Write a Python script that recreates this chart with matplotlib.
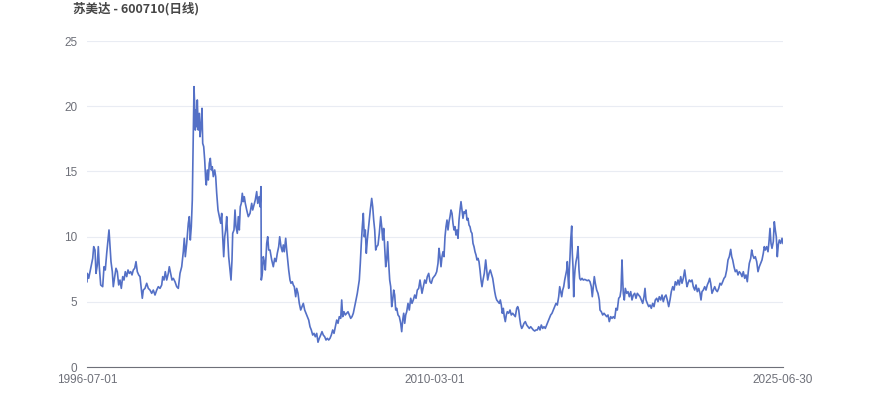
import matplotlib
matplotlib.use("Agg")
import matplotlib.pyplot as plt

# ---- data (trading-day index, close price) ----
title = "苏美达 - 600710(日线)"
n_days = 6961
x_tick_labels = ["1996-07-01", "2010-03-01", "2025-06-30"]
y_ticks = [0, 5, 10, 15, 20, 25]

idx_1996 = [0,3,17,40,57,67,80,90,103,113,123,137,157,170,183,197,210,220,230,240,253,263,277,290,303,317,330,343,357,370,383,397,410,423,437,450,463,477,490,503,517,530,543,553,563,580,597,613,630,647,663,680,697,713,730,747,757,770,783,797,813,823,837,850,863,880,897,913]
px_1996 = [6.54,7.18,6.80,7.69,8.33,9.23,8.97,7.18,7.82,9.23,7.69,6.29,6.16,7.69,7.44,8.72,9.74,10.51,9.23,8.08,7.31,6.16,6.93,7.57,7.31,6.29,6.67,6.03,6.93,6.67,7.31,6.93,7.44,7.18,7.31,7.06,7.44,7.57,8.08,7.31,7.06,6.93,6.03,5.27,5.90,6.03,6.42,6.03,5.90,5.65,5.90,5.52,5.90,6.16,6.03,6.29,6.93,6.67,7.31,6.67,7.18,7.69,7.18,6.67,6.80,6.54,6.16,6.03]

idx_2000 = [930,947,963,973,983,997,1013,1023,1033,1043,1053,1063,1070,1077,1083,1090,1097,1103,1113,1123,1130,1140,1150,1157,1167,1177,1187,1193,1203,1213,1223,1233,1243,1253,1263,1277,1287,1297,1310,1323,1337,1347,1357,1367,1377,1387,1397,1407,1417,1430,1440,1450,1457,1470,1480,1490,1503,1513,1523,1533,1543,1553,1563,1573,1583,1597,1613,1630,1647,1657,1670,1683,1697,1707,1720,1730,1740,1743,1753,1763,1773,1783,1797,1807,1817]
px_2000 = [7.18,7.69,8.84,9.87,8.46,9.48,11.02,11.53,9.74,10.76,12.81,17.66,21.50,19.96,18.17,19.71,18.43,20.48,18.17,19.45,17.66,18.43,19.84,17.15,16.90,15.87,14.34,13.96,15.11,14.34,15.62,16.00,15.11,15.36,14.60,15.11,14.60,13.32,12.04,11.53,11.02,11.78,9.99,8.46,9.99,10.51,11.53,9.99,8.46,7.44,6.67,8.21,10.25,10.51,12.04,10.76,10.25,11.53,10.51,12.29,12.55,13.32,12.68,13.06,12.55,12.04,11.53,11.78,12.55,12.04,12.42,12.81,13.45,12.55,13.06,12.29,13.83,6.67,7.18,8.46,8.08,7.44,9.48,9.99,8.97]

idx_2004 = [1830,1847,1863,1877,1890,1903,1917,1927,1940,1953,1963,1973,1987,1997,2007,2017,2030,2040,2053,2063,2073,2087,2097,2110,2123,2137,2150,2163,2177,2190,2203,2217,2230,2243,2257,2270,2283,2297,2310,2323,2337,2350,2363,2377,2390,2403,2417,2430,2443,2457,2470,2483,2497,2510,2523,2537,2547,2557,2570,2583,2597,2610,2623,2637,2650,2663,2677,2690,2703,2713,2723,2733,2743,2753,2763,2773,2783,2793,2803,2813,2823,2833,2847,2857]
px_2004 = [8.97,8.21,7.69,8.33,8.08,8.72,9.23,9.99,9.23,8.84,9.36,8.84,9.87,8.97,8.21,7.44,6.67,6.42,6.54,6.29,6.16,5.39,6.03,5.65,4.88,4.37,4.63,4.88,4.37,4.12,3.86,3.60,3.09,2.84,2.45,2.58,2.32,2.58,1.90,2.20,2.45,2.71,2.45,2.32,2.07,2.20,2.07,2.20,2.45,2.84,2.58,3.09,3.60,3.35,3.86,3.73,5.14,3.86,4.24,3.99,4.12,4.24,3.99,3.73,3.86,4.12,4.63,5.14,5.65,6.16,6.67,7.95,9.48,10.76,11.78,9.99,10.51,8.72,9.74,10.51,11.27,12.04,12.93,12.29]

idx_2008 = [2867,2877,2887,2897,2910,2923,2937,2947,2957,2967,2977,2987,2997,3007,3017,3027,3037,3047,3057,3067,3077,3087,3097,3110,3123,3137,3147,3157,3167,3177,3187,3197,3210,3223,3237,3250,3263,3277,3290,3303,3317,3330,3340,3350,3363,3377,3390,3403,3417,3430,3443,3457,3470,3483,3497,3510,3520,3530,3540,3550,3560,3570,3580,3590,3600,3610,3620,3630,3640,3650,3660,3670,3680,3690,3700,3710,3720,3730,3740,3750,3760,3770,3780,3790,3800,3810,3820,3830,3840,3850,3860,3870,3880,3890,3900,3910,3920,3930,3940,3950]
px_2008 = [11.27,10.51,8.97,9.23,9.36,10.25,11.53,10.76,9.74,10.63,9.23,7.69,8.21,9.61,7.95,6.67,6.16,4.63,5.14,5.90,5.52,4.37,4.50,3.99,3.86,3.35,2.71,3.60,4.12,3.35,3.99,4.24,4.88,4.37,5.27,4.88,5.14,5.52,5.27,5.90,6.03,6.67,6.16,5.65,6.16,6.67,6.42,6.93,7.18,6.54,6.42,6.80,6.93,7.06,7.31,7.95,9.10,8.46,7.69,8.46,8.84,8.46,9.99,10.76,11.27,10.51,11.14,11.53,12.04,11.78,11.02,10.51,10.76,10.12,10.51,9.87,11.27,12.04,12.68,12.04,11.40,11.91,11.78,12.04,11.27,11.40,10.89,10.76,10.38,10.25,9.48,9.23,8.84,8.59,8.21,8.33,8.08,7.44,6.67,6.16]

idx_2012 = [3960,3973,3987,3997,4007,4020,4033,4047,4057,4067,4077,4087,4097,4110,4123,4133,4143,4153,4163,4173,4183,4193,4203,4217,4230,4243,4257,4270,4283,4297,4307,4317,4327,4337,4347,4357,4370,4383,4397,4410,4423,4437,4450,4463,4477,4490,4503,4517,4530,4543,4557,4570,4583,4597,4610,4623,4637,4650,4663,4677,4690,4703,4717,4727,4737,4747,4757,4767,4777,4787,4797,4803,4810,4817,4823,4830,4837,4847,4853,4860,4867,4873,4880,4890,4900,4910,4920,4927,4937,4950,4963,4977,4990,5003,5017,5030,5043,5053,5063,5073,5083,5097,5110,5123]
px_2012 = [6.67,7.18,8.21,7.44,6.67,7.18,7.44,7.06,6.80,6.29,5.78,5.39,5.14,5.01,4.88,5.14,4.75,4.12,4.50,3.86,3.48,3.99,4.24,4.12,4.37,3.99,4.12,3.99,3.86,4.50,4.63,4.37,3.73,3.22,2.96,3.09,3.35,3.48,3.22,3.09,2.96,3.09,2.96,2.84,2.76,2.84,2.84,3.09,2.84,3.22,2.96,3.09,2.96,3.22,3.48,3.73,3.99,4.12,4.37,4.63,4.88,4.75,5.39,6.16,5.78,5.39,5.90,6.16,6.67,7.06,7.44,8.08,6.93,6.03,7.44,8.46,9.74,10.81,8.72,7.69,5.39,6.67,7.44,8.08,8.46,9.23,7.44,6.80,6.67,6.80,6.67,6.72,6.67,6.62,6.67,6.54,6.16,5.39,6.16,6.93,6.42,5.90,5.65,5.14]

idx_2017 = [5130,5143,5157,5170,5183,5197,5210,5223,5237,5250,5263,5277,5290,5303,5317,5330,5340,5350,5357,5363,5373,5383,5397,5410,5423,5437,5450,5463,5477,5490,5503,5517,5530,5543,5557,5570,5580,5590,5603,5617,5630,5643,5657,5670,5683,5697,5710,5723,5737,5750,5763,5777,5790,5803,5817,5830,5843,5857,5870,5883,5897,5910,5923,5937,5950,5963,5977]
px_2017 = [4.37,4.24,3.99,4.12,3.99,3.86,3.99,3.48,3.86,3.73,3.86,3.73,4.50,4.37,5.27,5.39,5.90,8.21,6.67,5.65,5.14,6.03,5.65,5.78,5.39,5.78,5.14,5.52,5.65,5.27,5.65,5.52,5.39,5.14,4.88,5.39,6.03,5.14,4.88,4.63,4.75,4.50,4.88,4.63,5.14,5.27,5.01,5.39,5.14,5.52,5.01,5.39,5.52,5.14,4.63,5.14,5.78,6.16,5.90,6.54,6.29,6.67,6.29,6.93,6.42,6.80,7.44]

idx_2021 = [5990,6000,6010,6023,6037,6050,6063,6077,6090,6103,6117,6130,6140,6150,6163,6177,6190,6203,6217,6227,6237,6250,6263,6277,6290,6303,6317,6330,6343,6357,6370,6383,6397,6410,6423,6437,6447,6457,6470,6483,6497,6510,6523,6537,6550,6563,6577,6590,6603,6613,6623,6637,6647,6657,6670,6683,6697,6710,6723,6737,6750,6763,6773,6783,6797,6810,6820,6830,6840,6850,6863,6873,6883,6893,6903,6913,6923,6937,6950,6960]
px_2021 = [6.67,6.16,6.42,6.67,6.54,6.67,6.16,5.90,6.29,5.78,6.03,5.65,5.14,5.78,5.90,6.16,5.90,6.29,6.54,6.80,6.42,5.65,5.90,6.16,5.90,5.78,6.03,6.42,6.29,6.54,6.80,6.93,7.44,8.21,8.46,9.02,8.46,8.21,7.69,7.31,7.44,7.06,7.31,7.18,6.93,7.31,6.80,7.06,6.54,7.31,7.95,8.33,8.97,8.59,8.33,8.46,8.08,7.31,7.69,7.95,8.21,8.72,9.23,8.97,9.23,8.84,9.61,10.63,9.48,9.10,9.61,11.14,10.51,9.99,8.46,9.36,9.74,9.48,9.87,9.48]

day_index = idx_1996 + idx_2000 + idx_2004 + idx_2008 + idx_2012 + idx_2017 + idx_2021
close_price = px_1996 + px_2000 + px_2004 + px_2008 + px_2012 + px_2017 + px_2021

# ---- drawing ----
plt.rcParams['font.family'] = ['Liberation Sans', 'Noto Sans CJK SC', 'DejaVu Sans']
fig = plt.figure(figsize=(8.7, 4.17), dpi=100)
ax = fig.add_axes([87/870, 1 - 367/417, 696/870, 326/417])

ax.plot(day_index, close_price, color='#5470C6', linewidth=1.2, solid_joinstyle='round')

ax.set_xlim(0, n_days - 1)
ax.set_ylim(0, 25)
ax.set_yticks(y_ticks)
ax.set_yticklabels([str(v) for v in y_ticks])
ax.set_xticks([0, (n_days - 1) / 2, n_days - 1])
ax.set_xticklabels(x_tick_labels)

ax.grid(axis='y', color='#E9ECF3', linewidth=0.8)
ax.set_axisbelow(True)
for side in ['top', 'right', 'left']:
    ax.spines[side].set_visible(False)
ax.spines['bottom'].set_color('#6E7079')
ax.spines['bottom'].set_linewidth(0.8)
ax.tick_params(axis='both', length=0, colors='#6E7079', labelsize=8.5)
ax.tick_params(axis='y', pad=7)
ax.tick_params(axis='x', pad=5)

fig.text(73/870, 1 - 9/417, title, ha='left', va='center', fontsize=9,
         fontweight='bold', color='#464646',
         family=['Noto Sans CJK SC', 'DejaVu Sans'])

fig.savefig('out.png', dpi=100)
